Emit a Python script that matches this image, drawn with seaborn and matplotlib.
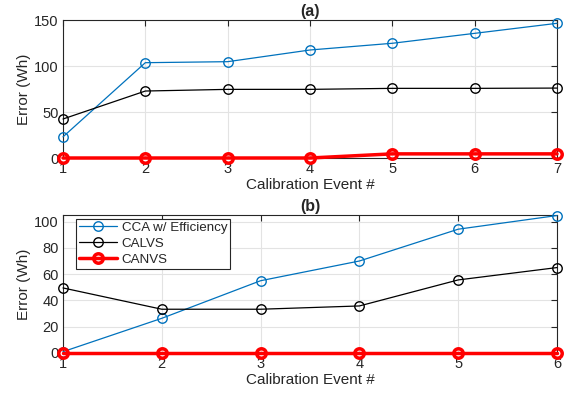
import matplotlib
matplotlib.use("Agg")
import matplotlib.pyplot as plt
import seaborn as sns
import pandas as pd

sns.set_style("white")
plt.rcParams['font.family'] = ['Liberation Sans', 'DejaVu Sans']

events_a = [1, 2, 3, 4, 5, 6, 7]
cca_a = [23, 103.6, 104.7, 117.4, 124.7, 135.5, 146.4]
calvs_a = [42.4, 72.8, 74.6, 74.6, 75.7, 75.7, 76.0]
canvs_a = [0, 0, 0, 0, 4.5, 4.5, 4.5]

events_b = [1, 2, 3, 4, 5, 6]
cca_b = [1.0, 26.4, 55.0, 70.0, 94.2, 104.6]
calvs_b = [49.5, 33.3, 33.3, 35.8, 55.6, 65.0]
canvs_b = [0, 0, 0, 0, 0, 0]

series_names = ["CCA w/ Efficiency", "CALVS", "CANVS"]
colors = ["#0072BD", "#000000", "#FF0000"]
widths = [0.9, 0.9, 2.5]
medges = [1.0, 1.0, 2.5]

fig = plt.figure(figsize=(5.66, 3.95), dpi=100)
ax_a = fig.add_axes([63/566, 1-158/395, (557-63)/566, (158-20)/395])
ax_b = fig.add_axes([63/566, 1-353/395, (557-63)/566, (353-215)/395])

def draw(ax, x, ys, xlim, ylim, yticks, title, legend):
    for name, y, c, w, me in zip(series_names, ys, colors, widths, medges):
        sns.lineplot(x=x, y=y, ax=ax, color=c, linewidth=w, marker='o',
                     markersize=6.8, markerfacecolor='none', markeredgecolor=c,
                     markeredgewidth=me, label=name, legend=False, clip_on=False,
                     zorder=3)
    ax.set_xlim(*xlim)
    ax.set_ylim(*ylim)
    ax.set_xticks(x)
    ax.set_yticks(yticks)
    ax.grid(True, color="#e3e3e3", linewidth=0.8)
    ax.set_axisbelow(True)
    for s in ax.spines.values():
        s.set_color("#262626")
        s.set_linewidth(0.8)
        s.set_visible(True)
    ax.tick_params(direction='in', length=4, width=0.8, color="#262626",
                   top=True, right=True, labelsize=10.5, labelcolor="#262626", pad=3)
    ax.set_xlabel("Calibration Event #", fontsize=11, color="#262626", labelpad=1)
    ax.set_ylabel("Error (Wh)", fontsize=11, color="#262626", labelpad=2)
    ax.set_title(title, fontsize=11.5, fontweight='bold', pad=3)
    if legend:
        lg = ax.legend(loc='upper left', fontsize=9.6, frameon=True, fancybox=False,
                       edgecolor="#262626", framealpha=1, borderpad=0.2,
                       labelspacing=0.28, handlelength=2.9, handletextpad=0.35,
                       borderaxespad=0, bbox_to_anchor=(0.026, 0.971))
        lg.get_frame().set_linewidth(0.8)

draw(ax_a, events_a, [cca_a, calvs_a, canvs_a], (1, 7), (0, 150), [0, 50, 100, 150], "(a)", False)
draw(ax_b, events_b, [cca_b, calvs_b, canvs_b], (1, 6), (0, 105), [0, 20, 40, 60, 80, 100], "(b)", True)

fig.savefig("out.png", dpi=100)
